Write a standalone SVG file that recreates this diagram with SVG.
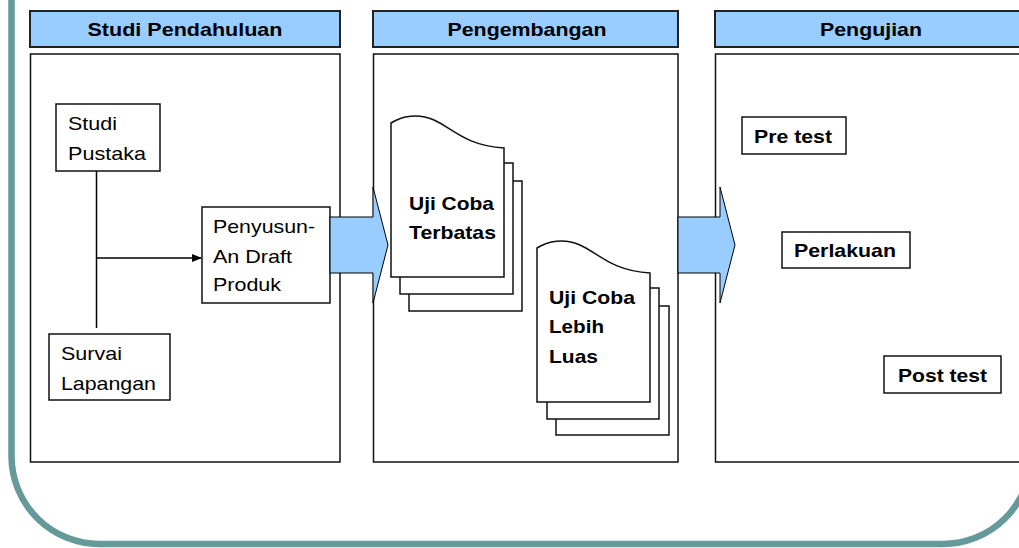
<svg xmlns="http://www.w3.org/2000/svg" width="1019" height="548" viewBox="0 0 1019 548">
<defs>
<style>
.t{font-family:"Liberation Sans",Arial,sans-serif;font-size:19px;fill:#000}
.b{font-weight:bold}
.hdr{fill:#99CCFF;stroke:#222;stroke-width:2}
.pnl{fill:#fff;stroke:#111;stroke-width:1.5}
.box{fill:#fff;stroke:#111;stroke-width:1.5}
.doc{fill:#fff;stroke:#111;stroke-width:1.5}
.blk{fill:#99CCFF;stroke:#000;stroke-width:1}
.ln{stroke:#000;stroke-width:1.5;fill:none}
</style>
<marker id="ah" markerWidth="10" markerHeight="8" refX="9" refY="4" orient="auto" markerUnits="userSpaceOnUse">
<path d="M0,0 L10,4 L0,8 Z" fill="#000"/>
</marker>
</defs>
<rect width="1019" height="548" fill="#fff"/>
<path id="frame" d="M11.5,-10 V456 A88,88 0 0 0 99.5,544 H943 A88,88 0 0 0 1031,456 V-10" fill="none" stroke="#669999" stroke-width="6.5"/>

<g id="stage1">
<rect class="hdr" x="30" y="11" width="310" height="36"/>
<text class="t b" x="185" y="36" text-anchor="middle" textLength="195" lengthAdjust="spacingAndGlyphs">Studi Pendahuluan</text>
<rect class="pnl" x="30.5" y="54" width="309.5" height="408"/>
</g>
<g id="stage2">
<rect class="hdr" x="373" y="11" width="305" height="36"/>
<text class="t b" x="527" y="36" text-anchor="middle" textLength="159" lengthAdjust="spacingAndGlyphs">Pengembangan</text>
<rect class="pnl" x="373.5" y="54" width="304.5" height="408"/>
</g>
<g id="stage3">
<rect class="hdr" x="715" y="11" width="320" height="36"/>
<text class="t b" x="871" y="36" text-anchor="middle" textLength="102" lengthAdjust="spacingAndGlyphs">Pengujian</text>
<rect class="pnl" x="715.5" y="54" width="320" height="408"/>
</g>

<g id="studi-pustaka">
<rect class="box" x="56" y="104" width="104" height="67"/>
<text class="t" x="68" y="130" textLength="49" lengthAdjust="spacingAndGlyphs">Studi</text>
<text class="t" x="68" y="160" textLength="78" lengthAdjust="spacingAndGlyphs">Pustaka</text>
</g>
<g id="survai-lapangan">
<rect class="box" x="49" y="334" width="121" height="66"/>
<text class="t" x="61" y="360" textLength="61" lengthAdjust="spacingAndGlyphs">Survai</text>
<text class="t" x="61" y="390" textLength="95" lengthAdjust="spacingAndGlyphs">Lapangan</text>
</g>
<g id="penyusunan-draft">
<rect class="box" x="202" y="207" width="128" height="96"/>
<text class="t" x="213" y="233" textLength="102" lengthAdjust="spacingAndGlyphs">Penyusun-</text>
<text class="t" x="213" y="263" textLength="79" lengthAdjust="spacingAndGlyphs">An Draft</text>
<text class="t" x="213" y="291" textLength="68" lengthAdjust="spacingAndGlyphs">Produk</text>
</g>

<g id="connectors">
<line class="ln" x1="96.5" y1="171" x2="96.5" y2="328"/>
<line class="ln" x1="96.5" y1="258" x2="201" y2="258" marker-end="url(#ah)"/>
<polygon class="blk" points="330,217 373,217 373,187 388,245 373,303 373,273 330,273"/>
<polygon class="blk" points="678,217 720,217 720,187 735,245 720,303 720,273 678,273"/>
</g>

<g id="uji-coba-terbatas">
<rect class="doc" x="409" y="181" width="113" height="130"/>
<rect class="doc" x="400" y="163" width="113" height="131"/>
<path class="doc" d="M391,123 C402,116 418,113 434,120 C452,128 466,146 504,148 V277 H391 Z"/>
<text class="t b" x="409" y="210" textLength="85" lengthAdjust="spacingAndGlyphs">Uji Coba</text>
<text class="t b" x="409" y="239" textLength="87" lengthAdjust="spacingAndGlyphs">Terbatas</text>
</g>
<g id="uji-coba-lebih-luas">
<rect class="doc" x="556" y="306" width="113" height="129"/>
<rect class="doc" x="547" y="288" width="112" height="131"/>
<path class="doc" d="M537,248 C548,241 564,238 580,245 C598,253 612,271 650,273 V402 H537 Z"/>
<text class="t b" x="549" y="304" textLength="86" lengthAdjust="spacingAndGlyphs">Uji Coba</text>
<text class="t b" x="549" y="333" textLength="55" lengthAdjust="spacingAndGlyphs">Lebih</text>
<text class="t b" x="549" y="363" textLength="49" lengthAdjust="spacingAndGlyphs">Luas</text>
</g>

<g id="pre-test">
<rect class="box" x="742" y="117" width="104" height="37"/>
<text class="t b" x="754" y="143" textLength="78" lengthAdjust="spacingAndGlyphs">Pre test</text>
</g>
<g id="perlakuan">
<rect class="box" x="782" y="232" width="128" height="36"/>
<text class="t b" x="794" y="257" textLength="102" lengthAdjust="spacingAndGlyphs">Perlakuan</text>
</g>
<g id="post-test">
<rect class="box" x="884" y="356" width="117" height="37"/>
<text class="t b" x="898" y="382" textLength="89" lengthAdjust="spacingAndGlyphs">Post test</text>
</g>
</svg>
